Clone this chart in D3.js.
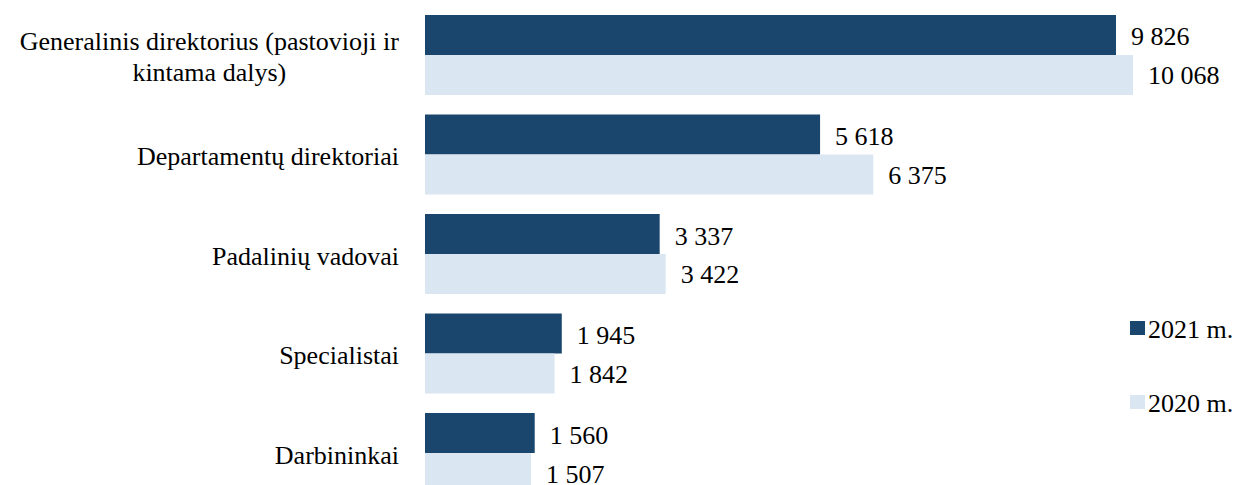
<!DOCTYPE html>
<html><head><meta charset="utf-8">
<script src="https://cdn.jsdelivr.net/npm/d3@7"></script>
<style>body{margin:0;background:#fff}svg{display:block}</style>
</head><body>
<svg id="c" width="1238" height="485"></svg>
<script>
const categories = [
  ["Generalinis direktorius (pastovioji ir", "kintama dalys)"],
  ["Departamentų direktoriai"],
  ["Padalinių vadovai"],
  ["Specialistai"],
  ["Darbininkai"]
];
const seriesNames = ["2021 m.", "2020 m."];
const values2021 = [9826, 5618, 3337, 1945, 1560];
const values2020 = [10068, 6375, 3422, 1842, 1507];
const colors = ["#1a466e", "#dae6f2"];

const fmt = v => d3.format(",")(v).replace(/,/g, " ");
const font = "'Liberation Serif','Times New Roman',serif";
const fs = 26;

const svg = d3.select("#c");
const idx = d3.range(categories.length);
const y = d3.scaleBand().domain(idx).range([15, 493]).paddingInner(0.196).paddingOuter(0);
const y1 = d3.scaleBand().domain([0, 1]).range([0, y.bandwidth()]);
const x = d3.scaleLinear().domain([0, 10068]).range([425, 1133]);

const series = [values2021, values2020];
series.forEach((vals, s) => {
  const g = svg.append("g");
  g.selectAll("rect").data(idx).join("rect")
    .attr("x", x(0))
    .attr("y", i => y(i) + y1(s))
    .attr("width", i => x(vals[i]) - x(0))
    .attr("height", y1.bandwidth())
    .attr("fill", colors[s]);
  g.selectAll("text").data(idx).join("text")
    .attr("x", i => x(vals[i]) + 15)
    .attr("y", i => y(i) + y1(s) + y1.bandwidth() / 2 + (s === 0 ? 2 : 1))
    .attr("dominant-baseline", "central")
    .attr("font-family", font).attr("font-size", fs).attr("fill", "#000")
    .text(i => fmt(vals[i]));
});

// category labels
const lab = svg.append("g");
idx.forEach(i => {
  const lines = categories[i];
  const lh = 31;
  const cy = y(i) + y.bandwidth() / 2 + 2;
  const t = lab.append("text")
    .attr("font-family", font).attr("font-size", fs).attr("fill", "#000")
    .attr("text-anchor", "middle");
  lines.forEach((ln, k) => {
    t.append("tspan").attr("x", 0)
      .attr("y", cy + (k - (lines.length - 1) / 2) * lh)
      .attr("dominant-baseline", "central")
      .text(ln);
  });
  const w = t.node().getBBox().width;
  t.selectAll("tspan").attr("x", 399 - w / 2);
});

// legend
const leg = svg.append("g");
const legY = [328, 402];
seriesNames.forEach((n, s) => {
  leg.append("rect").attr("x", 1130).attr("y", legY[s] - 7).attr("width", 15).attr("height", 14).attr("fill", colors[s]);
  leg.append("text").attr("x", 1148).attr("y", legY[s] + 1).attr("dominant-baseline", "central")
    .attr("font-family", font).attr("font-size", fs).text(n);
});
</script>
</body></html>
